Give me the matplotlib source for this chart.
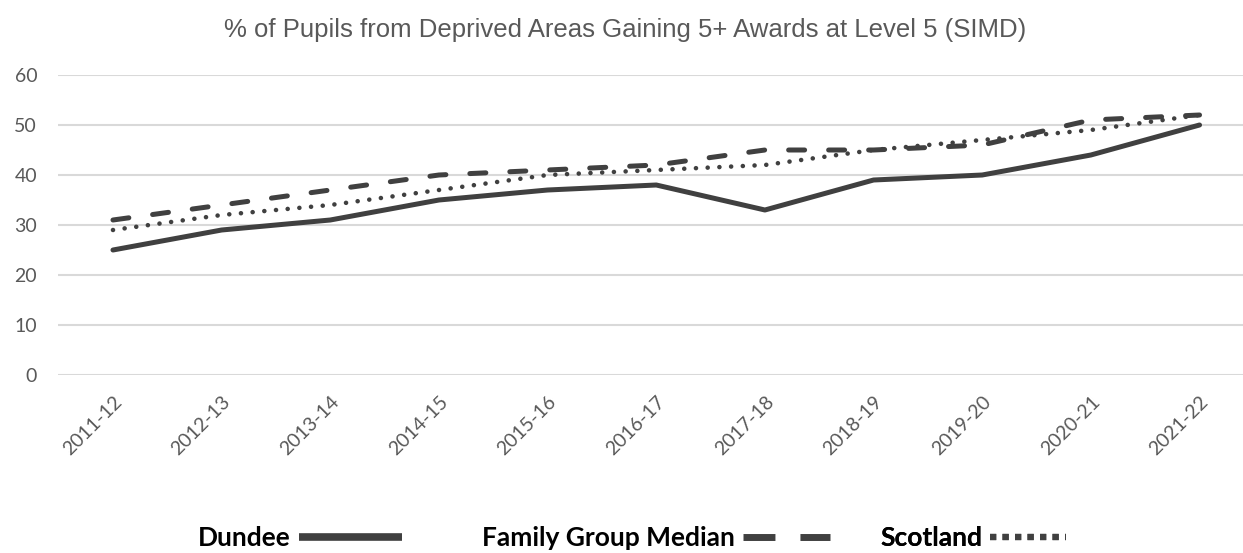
import matplotlib
matplotlib.use("Agg")
import matplotlib.pyplot as plt

# data
years = ["2011-12", "2012-13", "2013-14", "2014-15", "2015-16", "2016-17",
         "2017-18", "2018-19", "2019-20", "2020-21", "2021-22"]
dundee = [25, 29, 31, 35, 37, 38, 33, 39, 40, 44, 50]
family_median = [31, 34, 37, 40, 41, 42, 45, 45, 46, 51, 52]
scotland = [29, 32, 34, 37, 40, 41, 42, 45, 47, 49, 52]
y_ticks = [0, 10, 20, 30, 40, 50, 60]

LINE = "#404040"
GREY_TXT = "#595959"
GRID = "#d9d9d9"

W, H = 1243, 553
fig = plt.figure(figsize=(W / 100, H / 100), dpi=100)
ax = fig.add_axes([58 / W, 1 - 375 / H, 1 - 58 / W, 300 / H])

x = list(range(len(years)))
l_dundee, = ax.plot(x, dundee, color=LINE, lw=3.6, solid_capstyle="round",
                    solid_joinstyle="round", label="Dundee")
l_median, = ax.plot(x, family_median, color=LINE, lw=3.6, ls=(0, (3.2, 4.8)),
                    dash_capstyle="round", label="Family Group Median")
l_scot, = ax.plot(x, scotland, color=LINE, lw=3.3, ls=(0, (0.01, 2.55)),
                  dash_capstyle="round", label="Scotland")

ax.set_xlim(-0.506, 10.4)
ax.set_ylim(0, 60)
ax.set_yticks(y_ticks)
ax.set_xticks(x)
ax.set_xticklabels(years, rotation=45, ha="right", rotation_mode="anchor")
ax.grid(True, axis="y", color=GRID, lw=1.5)
ax.set_axisbelow(True)
for s in ax.spines.values():
    s.set_visible(False)
ax.tick_params(axis="both", length=0, colors=GREY_TXT, labelsize=14)
ax.tick_params(axis="y", pad=15)
ax.tick_params(axis="x", pad=13)
for lbl in ax.get_xticklabels() + ax.get_yticklabels():
    lbl.set_fontfamily("Lato")

fig.text(0.503, 1 - 30 / H,
         "% of Pupils from Deprived Areas Gaining 5+ Awards at Level 5 (SIMD)",
         ha="center", va="center", fontsize=18.5, color=GREY_TXT,
         family="Liberation Sans")


# Excel-style legend: one entry each, text first, sample after it
def legend_entry(handle, x_left, hlen, lw, ls, cap):
    leg = ax.legend(handles=[handle], loc="center left",
                    bbox_to_anchor=(x_left / W, 15 / H),
                    bbox_transform=fig.transFigure, frameon=False,
                    markerfirst=False, handlelength=hlen, handletextpad=0.3,
                    borderpad=0, borderaxespad=0,
                    prop={"family": "Lato", "weight": "bold", "size": 19})
    ln = leg.get_lines()[0]
    ln.set_linewidth(lw)
    ln.set_linestyle(ls)
    ln.set_solid_capstyle(cap)
    ln.set_dash_capstyle(cap)
    ax.add_artist(leg)
    return leg


legend_entry(l_dundee, 198, 3.9, 5.5, "-", "butt")
legend_entry(l_median, 482, 3.3, 5.0, (0, (4.6, 3.6)), "butt")
legend_entry(l_scot, 880, 2.9, 4.5, (0, (1.0, 1.0)), "butt")

fig.savefig("out.png", dpi=100)
